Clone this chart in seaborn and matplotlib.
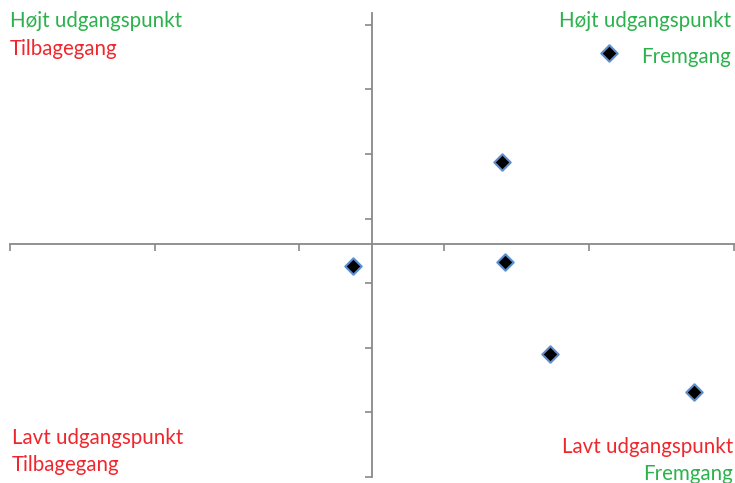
import numpy as np
import pandas as pd
import seaborn as sns
import matplotlib.pyplot as plt

# data points (progress vs starting point)
x_vals = [1.64, 0.90, -0.13, 0.92, 1.23, 2.23]
y_vals = [2.96, 1.28, -0.33, -0.28, -1.70, -2.28]

x_ticks = [-2.5, -1.5, -0.5, 0.5, 1.5, 2.5]
y_ticks = [-3.6, -2.6, -1.6, -0.6, 0.4, 1.4, 2.4, 3.4]

green = '#2bb24c'
red = '#f0262d'
axis_grey = '#898989'

df = pd.DataFrame({'x': x_vals, 'y': y_vals})

sns.set_style('white')
plt.rcParams['font.family'] = ['Lato', 'DejaVu Sans']

W, H = 735, 483
fig = plt.figure(figsize=(W / 100, H / 100), dpi=100)
ax = fig.add_axes([10 / W, 1 - 477 / H, 725 / W, 464 / H])

sns.scatterplot(data=df, x='x', y='y', marker='D', s=70, color='black',
                edgecolor='#5b8fd0', linewidth=1.5, ax=ax, zorder=3)

ax.set_xlim(-2.5, 2.51)
ax.set_ylim(-3.6, 3.58)
for side in ['top', 'right']:
    ax.spines[side].set_visible(False)
for side in ['left', 'bottom']:
    ax.spines[side].set_position(('data', 0))
    ax.spines[side].set_color(axis_grey)
    ax.spines[side].set_linewidth(1.3)

ax.set_xticks(x_ticks)
ax.set_yticks(y_ticks)
ax.tick_params(axis='both', direction='out', length=5, width=1.2,
               color=axis_grey, labelbottom=False, labelleft=False,
               bottom=True, left=True)
ax.set_xlabel('')
ax.set_ylabel('')


def label(px, py, txt, col, ha='left'):
    fig.text(px / W, 1 - py / H, txt, color=col, ha=ha, va='center', fontsize=14.8)


label(10, 21, 'Højt udgangspunkt', green)
label(10, 49, 'Tilbagegang', red)
label(731, 21, 'Højt udgangspunkt', green, ha='right')
label(731, 57, 'Fremgang', green, ha='right')
label(12, 438, 'Lavt udgangspunkt', red)
label(12, 465, 'Tilbagegang', red)
label(733, 447, 'Lavt udgangspunkt', red, ha='right')
label(733, 474, 'Fremgang', green, ha='right')

fig.savefig('out.png', dpi=100)
